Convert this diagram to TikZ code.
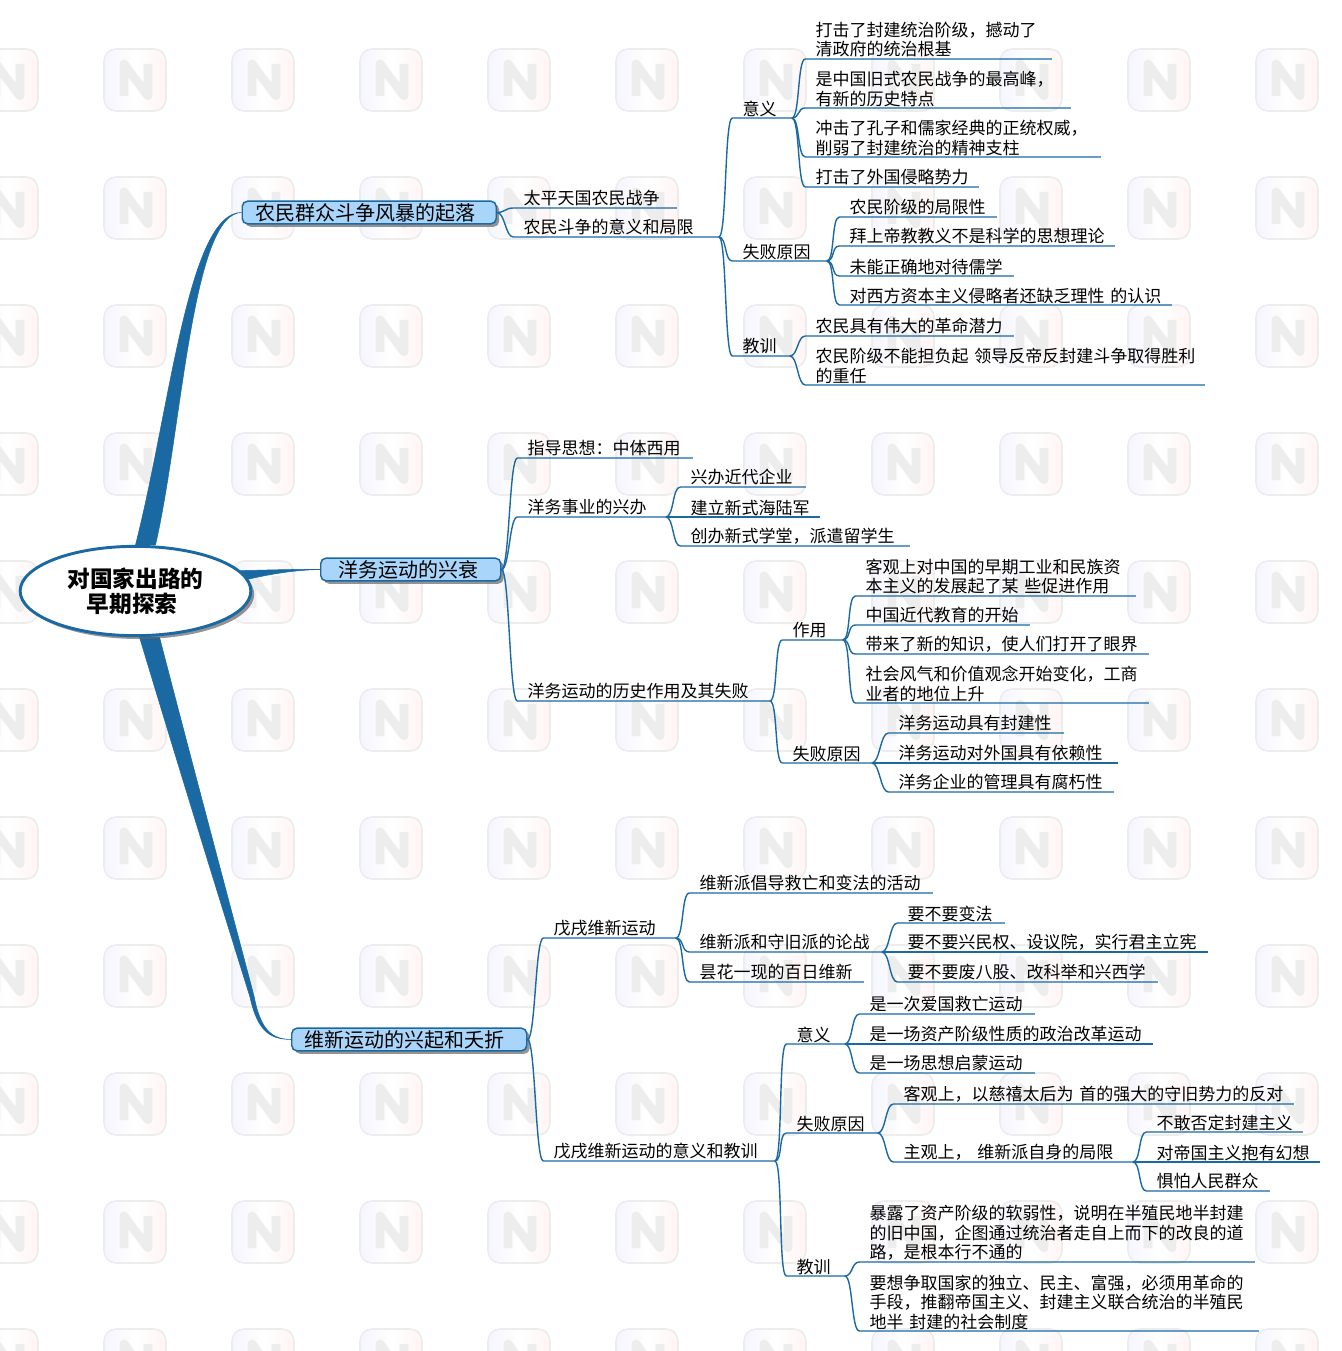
\documentclass[tikz,border=0pt]{standalone}
\usepackage{fontspec}
\setmainfont{Noto Sans CJK SC}
\usetikzlibrary{shapes.geometric, shadows, backgrounds}
\definecolor{mapblue}{HTML}{1A69A3}
\definecolor{hubfill}{HTML}{A8D5F9}

\begin{document}
\begin{tikzpicture}[
        x=0.75pt, y=-0.75pt,
        rootbox/.style={
            ellipse,
            draw=mapblue,
            fill=white,
            line width=2.2pt,
            minimum width=173pt,
            minimum height=67pt,
            inner sep=0pt,
            align=center,
            font=\fontsize{17}{18.8}\selectfont\bfseries,
            drop shadow={shadow xshift=2.5pt, shadow yshift=-2.5pt, fill=black!60, opacity=0.7}
        },
        hubbox/.style={
            rectangle,
            rounded corners=4pt,
            draw=mapblue,
            line width=1.1pt,
            fill=hubfill,
            anchor=west,
            text width=#1*0.75pt,
            align=left,
            minimum height=17pt,
            inner xsep=9.75pt,
            inner ysep=0pt,
            font=\fontsize{15}{16}\selectfont,
            drop shadow={shadow xshift=2.2pt, shadow yshift=-2.2pt, fill=black!60, opacity=0.7}
        },
        leaf/.style={
            anchor=south west,
            xshift=-0.5pt,
            text width=#1*0.75pt,
            align=left,
            inner xsep=0pt,
            inner ysep=1pt,
            font=\fontsize{12.75}{14.6}\selectfont
        },
        link/.style={
            draw=mapblue,
            line width=1.05pt,
            to path={(\tikztostart.south east)
                .. controls +(8,0) and +(-8,0) .. ([xshift=-7.5pt]\tikztotarget.south west)
                -- (\tikztotarget.south east)}
        },
        hublink/.style={
            draw=mapblue,
            line width=1.05pt,
            to path={(\tikztostart.east)
                .. controls +(8,0) and +(-8,0) .. ([xshift=-7.5pt]\tikztotarget.south west)
                -- (\tikztotarget.south east)}
        },
        spoke/.style={
            fill=mapblue,
            draw=mapblue,
            line width=0.4pt
        },
        badge/.style={
            rounded corners=9pt,
            draw=black!7,
            line width=1.2pt,
            left color=blue!4,
            right color=red!4,
            middle color=white
        },
        badgeN/.style={
            draw=black!7,
            line width=6.5pt,
            line join=round
        }
        ]
        \useasboundingbox (0,0) rectangle (1341,1351);

        \node (root) [rootbox] at (135.5,591) {对国家出路的\\早期探索\hspace*{5pt}};

        % the three branches
        \node (b1) [hubbox=228] at (241.5,212.5) {农民群众斗争风暴的起落};
        \node (b2) [hubbox=144, inner xsep=13.5pt] at (320,569.5) {洋务运动的兴衰};
        \node (b3) [hubbox=209] at (291,1039.5) {维新运动的兴起和夭折};

        % first branch
        \node (a1) [leaf=153] at (524,208) {太平天国农民战争};
        \node (a2) [leaf=195] at (524,237) {农民斗争的意义和局限};
        \node (a21) [leaf=49] at (743,118) {意义};
        \node (a22) [leaf=84] at (743,261) {失败原因};
        \node (a23) [leaf=47] at (743,356) {教训};
        \node (a211) [leaf=236] at (816,59) {打击了封建统治阶级，撼动了\\清政府的统治根基};
        \node (a212) [leaf=255] at (816,108) {是中国旧式农民战争的最高峰，\\有新的历史特点};
        \node (a213) [leaf=285] at (816,157) {冲击了孔子和儒家经典的正统权威，\\削弱了封建统治的精神支柱};
        \node (a214) [leaf=163] at (816,187) {打击了外国侵略势力};
        \node (a221) [leaf=147] at (850,217) {农民阶级的局限性};
        \node (a222) [leaf=265] at (850,246) {拜上帝教教义不是科学的思想理论};
        \node (a223) [leaf=164] at (850,276) {未能正确地对待儒学};
        \node (a224) [leaf=322] at (850,305) {对西方资本主义侵略者还缺乏理性 的认识};
        \node (a231) [leaf=198] at (816,336) {农民具有伟大的革命潜力};
        \node (a232) [leaf=389] at (816,385) {农民阶级不能担负起 领导反帝反封建斗争取得胜利\\的重任};

        % second branch
        \node (c1) [leaf=165] at (528,458) {指导思想：中体西用};
        \node (c2) [leaf=138] at (528,517) {洋务事业的兴办};
        \node (c3) [leaf=242] at (528,701) {洋务运动的历史作用及其失败};
        \node (c21) [leaf=115] at (691,487) {兴办近代企业};
        \node (c22) [leaf=129] at (691,517) {建立新式海陆军};
        \node (c23) [leaf=219] at (691,546) {创办新式学堂，派遣留学生};
        \node (c31) [leaf=50] at (793,640) {作用};
        \node (c32) [leaf=79] at (793,763) {失败原因};
        \node (c311) [leaf=270] at (866,596) {客观上对中国的早期工业和民族资\\本主义的发展起了某 些促进作用};
        \node (c312) [leaf=164] at (866,625) {中国近代教育的开始};
        \node (c313) [leaf=283] at (866,654) {带来了新的知识，使人们打开了眼界};
        \node (c314) [leaf=283] at (866,703) {社会风气和价值观念开始变化，工商\\业者的地位上升};
        \node (c321) [leaf=165] at (899,733) {洋务运动具有封建性};
        \node (c322) [leaf=219] at (899,763) {洋务运动对外国具有依赖性};
        \node (c323) [leaf=215] at (899,792) {洋务企业的管理具有腐朽性};

        % third branch
        \node (d1) [leaf=122] at (554,938) {戊戌维新运动};
        \node (d2) [leaf=221] at (554,1161) {戊戌维新运动的意义和教训};
        \node (d11) [leaf=233] at (700,893) {维新派倡导救亡和变法的活动};
        \node (d12) [leaf=182] at (700,952) {维新派和守旧派的论战};
        \node (d13) [leaf=164] at (700,982) {昙花一现的百日维新};
        \node (d121) [leaf=97] at (908,923) {要不要变法};
        \node (d122) [leaf=300] at (908,952) {要不要兴民权、设议院，实行君主立宪};
        \node (d123) [leaf=250] at (908,982) {要不要废八股、改科举和兴西学};
        \node (d21) [leaf=48] at (797,1044) {意义};
        \node (d22) [leaf=81] at (797,1133) {失败原因};
        \node (d23) [leaf=48] at (797,1276) {教训};
        \node (d211) [leaf=165] at (870,1014) {是一次爱国救亡运动};
        \node (d212) [leaf=283] at (870,1044) {是一场资产阶级性质的政治改革运动};
        \node (d213) [leaf=165] at (870,1073) {是一场思想启蒙运动};
        \node (d221) [leaf=390] at (904,1104) {客观上，以慈禧太后为 首的强大的守旧势力的反对};
        \node (d222) [leaf=229] at (904,1162) {主观上， 维新派自身的局限};
        \node (d2221) [leaf=146] at (1157,1132) {不敢否定封建主义};
        \node (d2222) [leaf=163] at (1157,1162) {对帝国主义抱有幻想};
        \node (d2223) [leaf=113] at (1157,1191) {惧怕人民群众};
        \node (d231) [leaf=385] at (870,1262) {暴露了资产阶级的软弱性，说明在半殖民地半封建\\的旧中国，企图通过统治者走自上而下的改良的道\\路，是根本行不通的};
        \node (d232) [leaf=389] at (870,1331) {要想争取国家的独立、民主、富强，必须用革命的\\手段，推翻帝国主义、封建主义联合统治的半殖民\\地半 封建的社会制度};

        \foreach \p/\q in {b1/a1, b1/a2, b2/c1, b2/c2, b2/c3, b3/d1, b3/d2}
            \draw [hublink] (\p) to (\q);

        \foreach \p/\q in {a2/a21, a2/a22, a2/a23,
            a21/a211, a21/a212, a21/a213, a21/a214,
            a22/a221, a22/a222, a22/a223, a22/a224,
            a23/a231, a23/a232,
            c2/c21, c2/c22, c2/c23, c3/c31, c3/c32,
            c31/c311, c31/c312, c31/c313, c31/c314,
            c32/c321, c32/c322, c32/c323,
            d1/d11, d1/d12, d1/d13, d12/d121, d12/d122, d12/d123,
            d2/d21, d2/d22, d2/d23,
            d21/d211, d21/d212, d21/d213,
            d22/d221, d22/d222, d222/d2221, d222/d2222, d222/d2223,
            d23/d231, d23/d232}
            \draw [link] (\p) to (\q);

        \begin{scope}[on background layer]
            % faint badges behind everything
            \foreach \wx in {7,135,...,1287}
                \foreach \wy in {80,208,...,1360} {
                    \draw [badge] (\wx-31,\wy-31) rectangle (\wx+31,\wy+31);
                    \draw [badgeN] (\wx-11,\wy+16) -- (\wx-11,\wy-16) -- (\wx+13,\wy+16) -- (\wx+13,\wy-16);
                }

            \filldraw [spoke] (root.north) .. controls (170,410) and (188,212) .. (b1.west)
                .. controls (192,213) and (182,430) .. ([xshift=15pt]root.north) -- cycle;
            \filldraw [spoke] (root.11) .. controls (270,570) and (300,569) .. (b2.west)
                .. controls (300,570) and (280,572) .. (root.6) -- cycle;
            \filldraw [spoke] ([xshift=3pt]root.south) .. controls (175,755) and (215,885) .. (250,997)
                .. controls (258,1034) and (272,1039) .. (b3.west)
                .. controls (274,1039) and (261,1033) .. (254,996)
                .. controls (226,890) and (190,755) .. ([xshift=18pt]root.south) -- cycle;
        \end{scope}

    \end{tikzpicture}
\end{document}
